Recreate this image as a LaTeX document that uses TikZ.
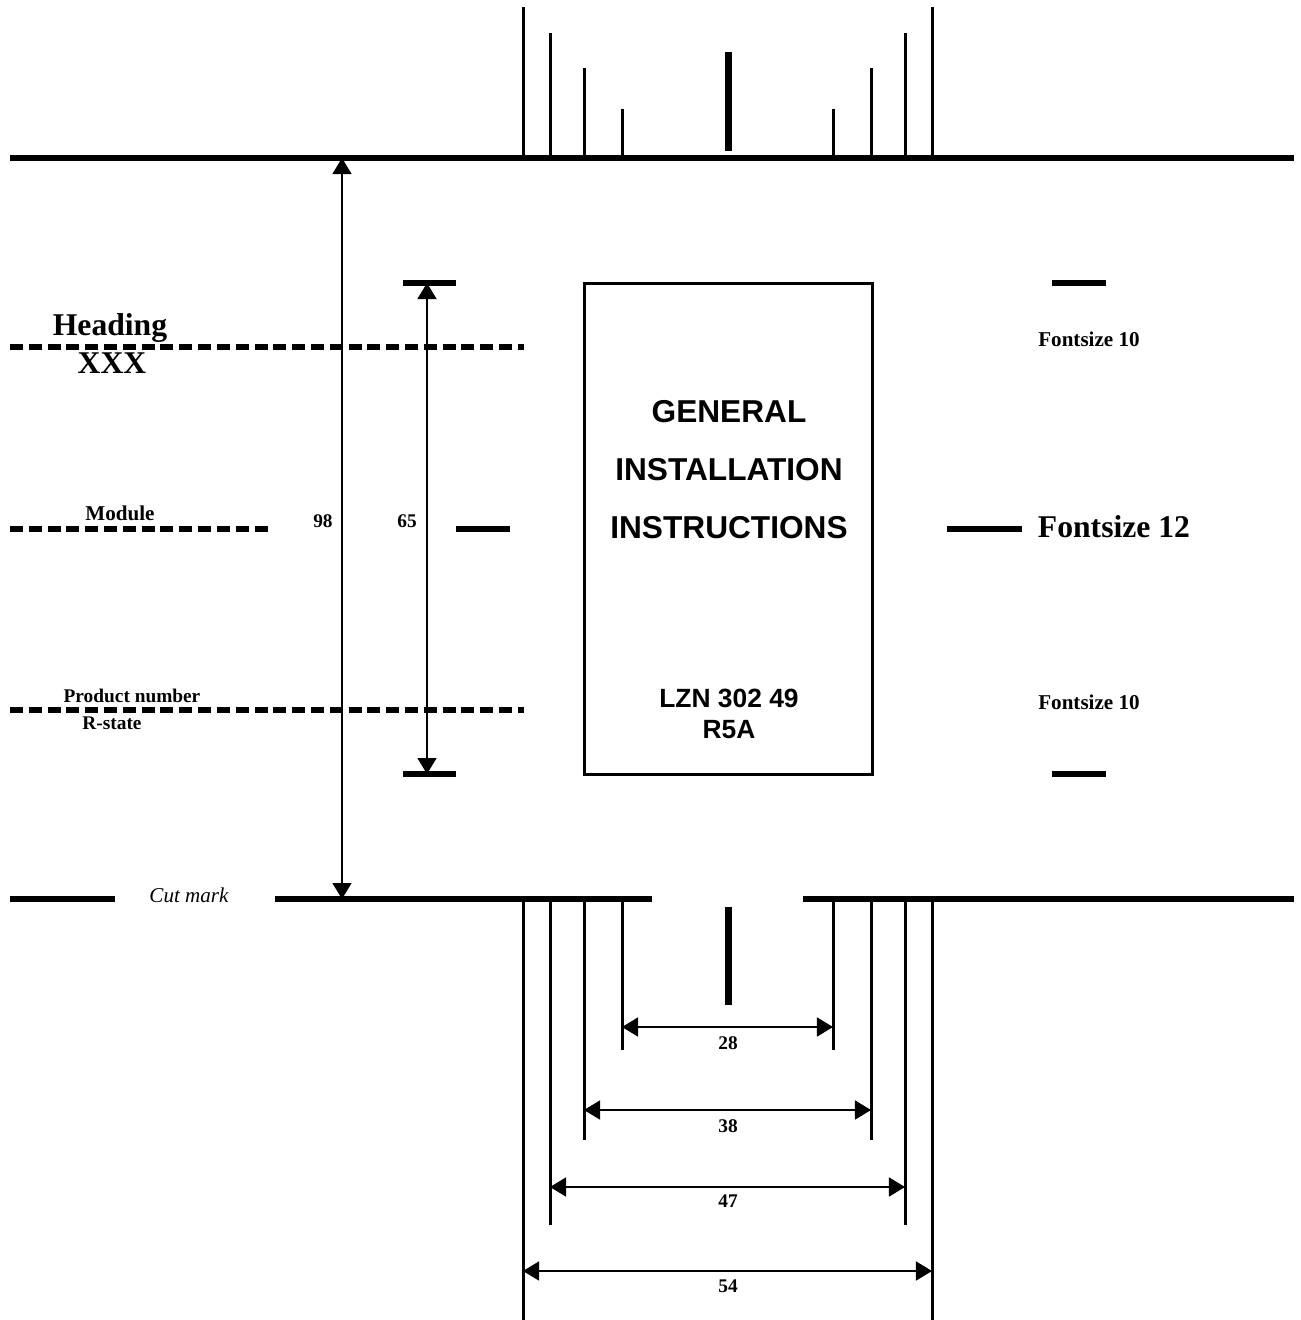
\documentclass[tikz,border=0pt]{standalone}
\usepackage{fontspec}
\setmainfont{Liberation Serif}
\setsansfont{Liberation Sans}
\usetikzlibrary{arrows.meta}
\tikzset{
  thickline/.style={line width=0.06cm},
  tickline/.style={line width=0.03cm},
  centermark/.style={line width=0.07cm},
  dashline/.style={line width=0.062cm, dash pattern=on 0.13cm off 0.058cm},
  dimline/.style={line width=0.4pt, {Triangle[length=0.16cm,width=0.19cm]}-{Triangle[length=0.16cm,width=0.19cm]}},
  dimlbl/.style={font=\fontsize{5.5}{6}\selectfont\bfseries, inner sep=0pt},
  bigser/.style={font=\fontsize{9}{10}\selectfont\bfseries, inner sep=0pt},
  smallser/.style={font=\fontsize{6}{7}\selectfont\bfseries, inner sep=0pt},
  sanslbl/.style={font=\sffamily\bfseries\fontsize{9}{10}\selectfont, inner sep=0pt},
  sanssmall/.style={font=\sffamily\bfseries\fontsize{7.5}{9}\selectfont, inner sep=0pt},
}
\begin{document}
\begin{tikzpicture}[x=0.01cm,y=-0.01cm]
\useasboundingbox (0,0) rectangle (1301,1320);
% main horizontal lines
\draw[thickline] (10,158) -- (1294,158);
\draw[thickline] (10,899) -- (115,899);
\draw[thickline] (275,899) -- (652,899);
\draw[thickline] (803,899) -- (1294,899);
\node[font=\fontsize{6}{7}\selectfont\itshape, inner sep=0pt] (cut) at (189,895) {Cut mark};
% top ticks
\draw[tickline] (523,7) -- (523,158);
\draw[tickline] (550,33) -- (550,158);
\draw[tickline] (584,68) -- (584,158);
\draw[tickline] (622,109) -- (622,158);
\draw[tickline] (833,109) -- (833,158);
\draw[tickline] (871,68) -- (871,158);
\draw[tickline] (905,33) -- (905,158);
\draw[tickline] (932,7) -- (932,158);
\draw[centermark] (728,52) -- (728,151);
% bottom ticks
\coordinate (a1) at (523,1271); \coordinate (b1) at (932,1271);
\coordinate (a2) at (550,1187); \coordinate (b2) at (905,1187);
\coordinate (a3) at (584,1110); \coordinate (b3) at (871,1110);
\coordinate (a4) at (622,1027); \coordinate (b4) at (833,1027);
\draw[tickline] (523,899) -- (523,1320);
\draw[tickline] (550,899) -- (550,1225);
\draw[tickline] (584,899) -- (584,1140);
\draw[tickline] (622,899) -- (622,1050);
\draw[tickline] (833,899) -- (833,1050);
\draw[tickline] (871,899) -- (871,1140);
\draw[tickline] (905,899) -- (905,1225);
\draw[tickline] (932,899) -- (932,1320);
\draw[centermark] (728,907) -- (728,1005);
\draw[dimline] (a4) -- (b4);
\draw[dimline] (a3) -- (b3);
\draw[dimline] (a2) -- (b2);
\draw[dimline] (a1) -- (b1);
\node[dimlbl] (l28) at (728,1043) {28};
\node[dimlbl] (l38) at (728,1126) {38};
\node[dimlbl] (l47) at (728,1201) {47};
\node[dimlbl] (l54) at (728,1286) {54};
% vertical dimensions
\coordinate (t98) at (342,158); \coordinate (b98) at (342,899);
\draw[dimline] (t98) -- (b98);
\node[dimlbl] (l98) at (323,521) {98};
\draw[thickline] (403,283) -- (456,283);
\draw[thickline] (403,774) -- (456,774);
\coordinate (t65) at (427,283); \coordinate (b65) at (427,774);
\draw[dimline] (t65) -- (b65);
\node[dimlbl] (l65) at (407,521) {65};
% dashed lines
\draw[dashline] (10,347) -- (524,347);
\draw[dashline] (10,529) -- (268,529);
\draw[dashline] (10,710) -- (524,710);
\node[bigser] (heading) at (110,328) {Heading};
\node[bigser] (xxx) at (112,363) {XXX};
\node[smallser] (module) at (120,513) {Module};
\node[font=\fontsize{5.5}{6}\selectfont\bfseries, inner sep=0pt] (pn) at (132,696) {Product number};
\node[font=\fontsize{5.5}{6}\selectfont\bfseries, inner sep=0pt] (rs) at (112,723) {R-state};
% box
\draw[line width=0.03cm] (584,283) rectangle (872,774);
\node[sanslbl] (g1) at (729,412) {GENERAL};
\node[sanslbl] (g2) at (729,470) {INSTALLATION};
\node[sanslbl] (g3) at (729,528) {INSTRUCTIONS};
\node[sanssmall] (p1) at (729,698) {LZN 302 49};
\node[sanssmall] (p2) at (729,730) {R5A};
% side bars
\draw[thickline] (456,529) -- (510,529);
\draw[thickline] (947,529) -- (1022,529);
\draw[thickline] (1052,283) -- (1106,283);
\draw[thickline] (1052,774) -- (1106,774);
\node[smallser] (f10a) at (1089,339) {Fontsize 10};
\node[bigser] (f12) at (1114,527) {Fontsize 12};
\node[smallser] (f10b) at (1089,702) {Fontsize 10};
\end{tikzpicture}
\end{document}
